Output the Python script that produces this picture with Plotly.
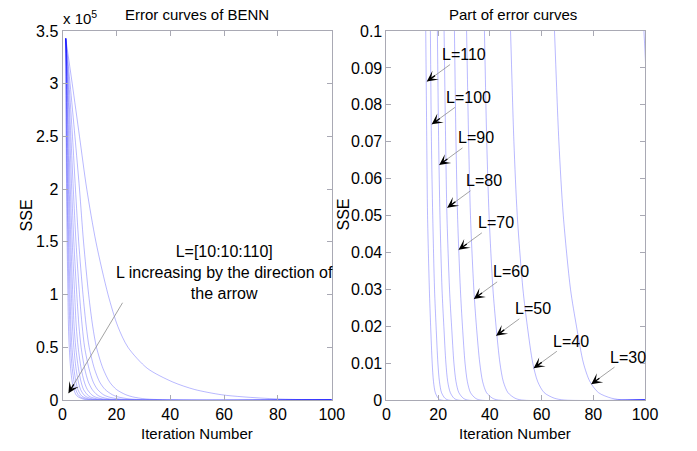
import plotly.graph_objects as go

# ---------------- data ----------------
L_values = [10, 20, 30, 40, 50, 60, 70, 80, 90, 100, 110]

# Left panel: SSE levels and the iteration at which each curve reaches that level
left_sse_levels = [343000, 300000, 250000, 200000, 150000, 100000, 70000, 50000,
                   30000, 17000, 10000, 5000, 3000, 1000, 0, 0]
left_iters = [
    [1.2, 3.6, 6.3, 9.0, 12.4, 16.9, 20.5, 24.3, 31.5, 41.0, 49.0, 59.0, 67.0, 80.0, 97.0, 100],  # L=10
    [1.2, 2.8, 4.6, 6.3, 7.8, 9.7, 11.2, 12.6, 15.0, 17.5, 20.0, 23.5, 26.0, 31.0, 45.0, 100],    # L=20
    [1.2, 2.4, 3.7, 4.8, 6.0, 7.6, 8.8, 9.9, 11.8, 13.8, 15.8, 18.5, 20.5, 25.0, 38.0, 100],      # L=30
    [1.2, 2.1, 3.1, 4.0, 5.0, 6.3, 7.3, 8.2, 9.8, 11.4, 13.0, 15.2, 17.0, 21.0, 31.0, 100],       # L=40
    [1.2, 1.9, 2.7, 3.4, 4.2, 5.3, 6.1, 6.9, 8.2, 9.6, 11.0, 12.8, 14.2, 17.5, 26.0, 100],        # L=50
    [1.2, 1.7, 2.3, 2.9, 3.6, 4.5, 5.1, 5.8, 6.9, 8.1, 9.2, 10.8, 12.0, 15.0, 21.0, 100],         # L=60
    [1.2, 1.6, 2.0, 2.5, 3.1, 3.8, 4.3, 4.9, 5.9, 6.9, 7.8, 9.2, 10.3, 13.0, 18.0, 100],          # L=70
    [1.2, 1.5, 1.8, 2.2, 2.7, 3.3, 3.7, 4.2, 5.0, 5.9, 6.7, 7.9, 8.9, 11.2, 15.0, 100],           # L=80
    [1.2, 1.4, 1.6, 1.9, 2.3, 2.8, 3.1, 3.5, 4.2, 5.0, 5.7, 6.7, 7.6, 9.7, 13.0, 100],            # L=90
    [1.2, 1.3, 1.45, 1.7, 2.0, 2.4, 2.7, 3.0, 3.6, 4.3, 4.9, 5.8, 6.6, 8.5, 11.0, 100],           # L=100
    [1.2, 1.25, 1.35, 1.5, 1.7, 2.0, 2.2, 2.5, 3.0, 3.6, 4.2, 5.0, 5.8, 7.5, 9.5, 100],           # L=110
]

# Right panel (zoom 0..0.1): SSE levels and iteration at which each curve reaches it
right_sse_levels = [0.13, 0.1, 0.07, 0.05, 0.03, 0.02, 0.01, 0.005, 0.002, 0.0005, 0, 0]
right_L = [20, 30, 40, 50, 60, 70, 80, 90, 100, 110]
right_iters = [
    [97.4, 99.6, 101.8, 104.1, 107.8, 110.8, 114.3, 117.6, 121.9, 128.6, 135.1, 150],  # L=20
    [63.3, 65.0, 66.7, 68.4, 71.2, 73.5, 76.2, 78.7, 82.0, 87.0, 92.0, 100],           # L=30
    [46.7, 48.0, 49.3, 50.6, 52.8, 54.5, 56.6, 58.5, 61.0, 64.9, 68.7, 100],           # L=40
    [37.0, 37.9, 38.8, 39.7, 41.2, 42.4, 43.9, 45.2, 47.0, 49.7, 52.3, 100],           # L=50
    [30.2, 31.0, 31.8, 32.5, 33.8, 34.8, 36.1, 37.2, 38.7, 41.0, 43.2, 100],           # L=60
    [25.7, 26.3, 26.9, 27.5, 28.6, 29.4, 30.4, 31.3, 32.5, 34.4, 36.2, 100],           # L=70
    [21.7, 22.3, 22.9, 23.4, 24.4, 25.2, 26.1, 26.9, 28.0, 29.7, 31.4, 100],           # L=80
    [19.2, 19.7, 20.2, 20.7, 21.5, 22.2, 23.0, 23.7, 24.7, 26.1, 27.6, 100],           # L=90
    [16.6, 17.0, 17.4, 17.9, 18.6, 19.2, 19.9, 20.5, 21.3, 22.6, 23.9, 100],           # L=100
    [14.8, 15.2, 15.6, 15.9, 16.6, 17.1, 17.7, 18.2, 18.9, 20.0, 21.1, 100],           # L=110
]

# Right panel labels: text and arrow tip positions (iteration, SSE)
label_L = [110, 100, 90, 80, 70, 60, 50, 40, 30]
label_tip_x = [15.6, 17.5, 20.4, 23.5, 27.9, 33.8, 42.4, 56.9, 79.2]
label_tip_y = [0.0863, 0.0747, 0.0637, 0.0521, 0.0407, 0.0274, 0.0174, 0.0086, 0.0043]

# Left panel big arrow: tip and text
left_arrow_tip = (2.2, 6400)
left_text_pos = (60, 121000)
left_text = "L=[10:10:110]<br>L increasing by the direction of<br>the arrow"

left_yticks = [0, 50000, 100000, 150000, 200000, 250000, 300000, 350000]
left_yticklabels = ["0", "0.5", "1", "1.5", "2", "2.5", "3", "3.5"]
right_yticks = [0, 0.01, 0.02, 0.03, 0.04, 0.05, 0.06, 0.07, 0.08, 0.09, 0.1]
right_yticklabels = ["0", "0.01", "0.02", "0.03", "0.04", "0.05", "0.06", "0.07", "0.08", "0.09", "0.1"]
xticks = [0, 20, 40, 60, 80, 100]

# ---------------- style ----------------
W, H = 697, 451
FONT = "Liberation Sans, Arial, Helvetica, sans-serif"
LINE = "rgba(0,0,255,0.28)"
AXC = "#a9a9b4"
TICK_SIZE = 16
TEXT_SIZE = 15
TITLE_SIZE = 15
ANN_SIZE = 16

fig = go.Figure()
for L, xs in zip(L_values, left_iters):
    fig.add_trace(go.Scatter(x=xs, y=left_sse_levels, mode="lines", name=f"L={L}",
                             line=dict(color=LINE, width=1, shape="spline", smoothing=0.8),
                             xaxis="x", yaxis="y", showlegend=False, hoverinfo="skip"))
for L, xs in zip(right_L, right_iters):
    fig.add_trace(go.Scatter(x=xs, y=right_sse_levels, mode="lines", name=f"L={L}",
                             line=dict(color=LINE, width=1, shape="spline", smoothing=0.8),
                             xaxis="x2", yaxis="y2", showlegend=False, hoverinfo="skip"))

mt, mb = 31, 51
plot_h = H - mt - mb

axis_common = dict(showline=True, linecolor=AXC, linewidth=1, mirror="ticks",
                   ticks="inside", ticklen=5, tickcolor=AXC, showgrid=False,
                   zeroline=False)

fig.update_layout(
    width=W, height=H,
    margin=dict(l=0, r=0, t=mt, b=mb),
    paper_bgcolor="white", plot_bgcolor="white",
    font=dict(family=FONT, color="black", size=TEXT_SIZE),
    xaxis=dict(domain=[60 / W, 336 / W], range=[0, 100], tickvals=xticks,
               tickfont=dict(size=TICK_SIZE), anchor="y", **axis_common),
    yaxis=dict(domain=[0, 1], range=[0, 350000], tickvals=left_yticks,
               ticktext=left_yticklabels, tickfont=dict(size=TICK_SIZE), anchor="x", **axis_common),
    xaxis2=dict(domain=[392 / W, 657 / W], range=[0, 100], tickvals=xticks,
                tickfont=dict(size=TICK_SIZE), anchor="y2", **axis_common),
    yaxis2=dict(domain=[0, 1], range=[0, 0.1], tickvals=right_yticks,
                ticktext=right_yticklabels, tickfont=dict(size=TICK_SIZE), anchor="x2", **axis_common),
)

ann = []
def paper_text(text, xpx, ypx, size=TEXT_SIZE, angle=0, xanchor="center"):
    ann.append(dict(text=text, xref="paper", yref="paper",
                    x=xpx / W, y=1 - (ypx - mt) / plot_h,
                    showarrow=False, xanchor=xanchor, yanchor="middle", textangle=angle,
                    font=dict(size=size, family=FONT, color="black")))

paper_text("Error curves of BENN", 198, 14, size=TITLE_SIZE)
paper_text("Part of error curves", 522, 15, size=TITLE_SIZE)
paper_text("Iteration Number", 198, 433)
paper_text("Iteration Number", 524, 433)
paper_text("SSE", 23, 215, size=16, angle=-90)
paper_text("SSE", 347, 215, size=16, angle=-90)
paper_text("x 10<sup>5</sup>", 58, 17, xanchor="left")

# left big arrow (gray line + black head)
ann.append(dict(x=left_arrow_tip[0], y=left_arrow_tip[1], xref="x", yref="y",
                ax=55, ay=-92, text="", showarrow=True, arrowhead=0,
                arrowwidth=0.8, arrowcolor="#8c8c8c"))
ann.append(dict(x=left_arrow_tip[0], y=left_arrow_tip[1], xref="x", yref="y",
                ax=6.2, ay=-10.3, text="", showarrow=True, arrowhead=3,
                arrowsize=1.4, arrowwidth=1.3, arrowcolor="black"))
ann.append(dict(x=left_text_pos[0], y=left_text_pos[1], xref="x", yref="y",
                text=left_text, showarrow=False, align="center",
                font=dict(size=ANN_SIZE, family=FONT, color="black")))

# right labels
for L, tx, ty in zip(label_L, label_tip_x, label_tip_y):
    ann.append(dict(x=tx, y=ty, xref="x2", yref="y2", ax=37, ay=-27,
                    text=f"L={L}", showarrow=True, arrowhead=0, arrowwidth=0.8,
                    arrowcolor="#8c8c8c", font=dict(size=ANN_SIZE, family=FONT, color="black")))
    ann.append(dict(x=tx, y=ty, xref="x2", yref="y2", ax=9.7, ay=-7.0,
                    text="", showarrow=True, arrowhead=3, arrowsize=1.4,
                    arrowwidth=1.3, arrowcolor="black"))

fig.update_layout(annotations=ann)
fig.write_html("out.html")
